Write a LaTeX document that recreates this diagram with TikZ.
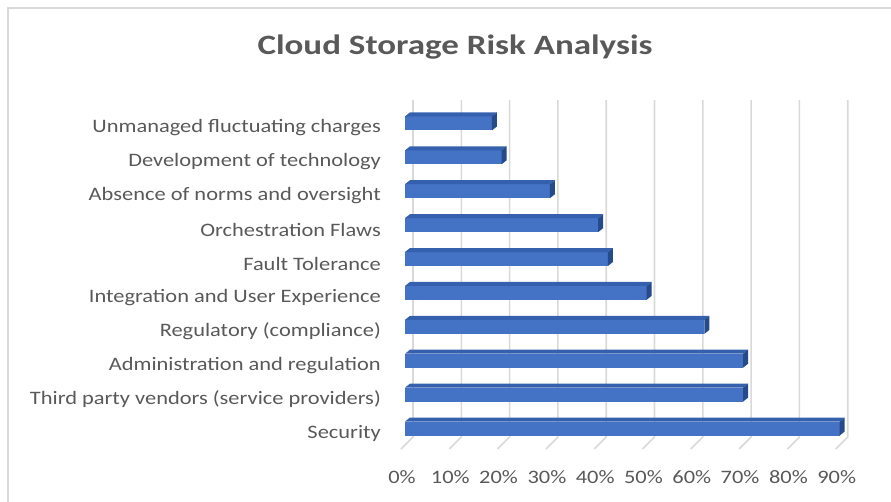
\documentclass[tikz,border=0pt]{standalone}
\usepackage{fontspec}
\usepackage{graphicx}
\setmainfont{Carlito}
\usetikzlibrary{positioning}

\definecolor{axisgray}{HTML}{595959}
\definecolor{gridgray}{HTML}{D9D9D9}
\definecolor{barfront}{HTML}{4472C4}
\definecolor{bartop}{HTML}{3560AE}
\definecolor{barside}{HTML}{264A8A}

% text in the chart is set a little wide
\newcommand\chartwide[1]{\scalebox{1.18}[1]{#1}}

\begin{document}
\begin{tikzpicture}[
    x=1pt, y=-1pt,
    lbl/.style={font=\fontsize{19}{21}\selectfont, text=axisgray, inner sep=0pt},
    titletext/.style={font=\fontsize{28}{31}\selectfont\bfseries, text=axisgray, inner sep=0pt},
    grid/.style={draw=gridgray, line width=1.6pt},
    frame/.style={draw=gridgray, line width=1.5pt},
]
\useasboundingbox (0,0) rectangle (891,501);

% chart area border (runs off at right and bottom)
\draw[frame] (8,510) -- (8,8) -- (900,8);

% === Title ===
\node[titletext] (title) at (455,47) {\scalebox{1.25}[1]{Cloud Storage Risk Analysis}};

% === Back wall gridlines, floor edges and axis ticks ===
\foreach \k in {0,...,9} {
    \pgfmathsetmacro\gx{413+48.3*\k}
    \pgfmathtruncatemacro\pc{10*\k}
    \draw[grid] (\gx,100) -- (\gx,437) -- (\gx-12,449);
    \node[lbl] (tick\k) at (\gx-11,477) {\chartwide{\pc\%}};
}

% === Bars, bottom to top ===
\foreach \v/\name [count=\i from 0] in {
    90/Security,
    70/Third party vendors (service providers),
    70/Administration and regulation,
    62/Regulatory (compliance),
    50/Integration and User Experience,
    42/Fault Tolerance,
    40/Orchestration Flaws,
    30/Absence of norms and oversight,
    20/Development of technology,
    18/Unmanaged fluctuating charges} {
    \pgfmathsetmacro\yc{428.5-33.9*\i}
    \pgfmathsetmacro\xe{405+4.83*\v}
    % front face
    \fill[barfront] (405,{\yc-7}) rectangle (\xe,{\yc+7});
    % top face
    \fill[bartop] (405,{\yc-7}) -- ++(5,-4) -- ({\xe+5},{\yc-11}) -- (\xe,{\yc-7}) -- cycle;
    % end face
    \fill[barside] (\xe,{\yc-7}) -- ++(5,-4) -- ++(0,14) -- ++(-5,4) -- cycle;
    \node[lbl, anchor=east] (risk\i) at (381,{\yc+4.5}) {\chartwide{\name}};
}

\end{tikzpicture}
\end{document}
